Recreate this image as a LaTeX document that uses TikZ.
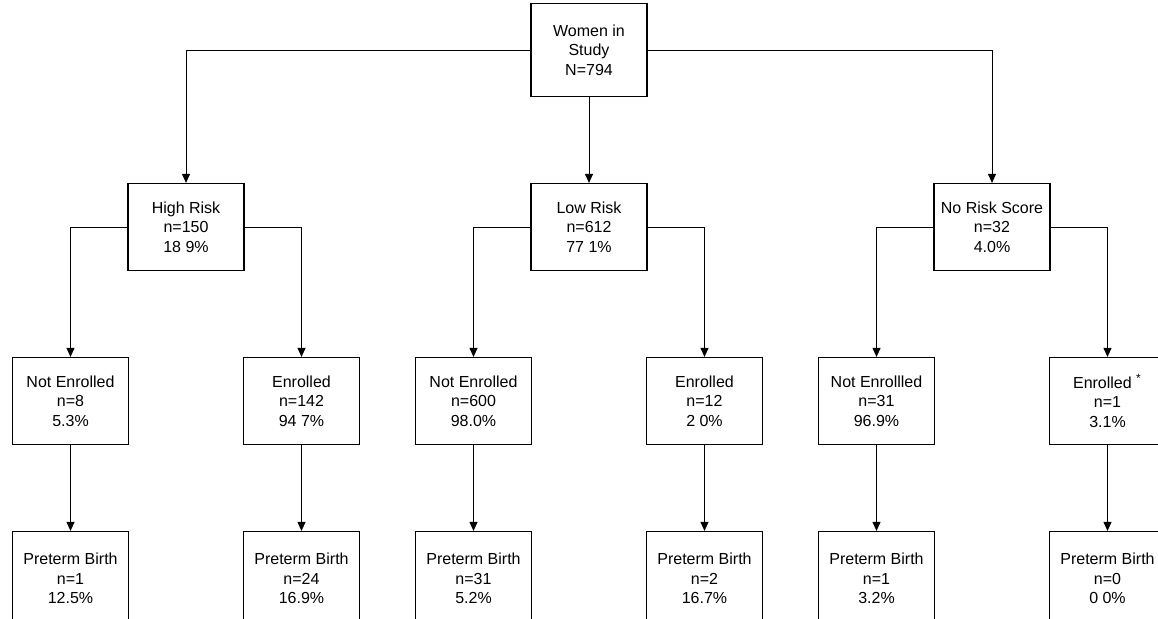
\documentclass[tikz,border=0pt]{standalone}
\usepackage{fontspec}
\setmainfont{Liberation Sans}
\usetikzlibrary{positioning, arrows.meta}

\begin{document}
\begin{tikzpicture}[x=0.5pt, y=0.5pt, line width=0.5pt, >={Triangle[width=4pt,length=4.5pt]},
    node distance=87pt and 57.75pt, on grid,
    box/.style={draw, line width=0.6pt, rectangle, minimum width=58pt, minimum height=43.5pt,
        inner sep=2pt, align=center, font=\fontsize{8}{9.65}\selectfont},
    pbox/.style={box, minimum height=47pt}]
    \useasboundingbox (0,0) rectangle (1158,-618);

    \node[box, minimum height=46.5pt] (w) at (589,-50) {Women in\\Study\\N=794};
    \node[box] (hr) [below left=88.5pt and 201.5pt of w] {High Risk\\n=150\\18 9\%};
    \node[box] (lr) [below=88.5pt of w] {Low Risk\\n=612\\77 1\%};
    \node[box] (nr) [below right=88.5pt and 201.5pt of w] {No Risk Score\\n=32\\4.0\%};

    \node[box] (ne1) [below left=of hr] {Not Enrolled\\n=8\\5.3\%};
    \node[box] (en1) [below right=of hr] {Enrolled\\n=142\\94 7\%};
    \node[box] (ne2) [below left=of lr] {Not Enrolled\\n=600\\98.0\%};
    \node[box] (en2) [below right=of lr] {Enrolled\\n=12\\2 0\%};
    \node[box] (ne3) [below left=of nr] {Not Enrollled\\n=31\\96.9\%};
    \node[box] (en3) [below right=of nr] {Enrolled \textsuperscript{*}\\n=1\\3.1\%};

    \node[pbox] (pb1) [below=88.75pt of ne1] {Preterm Birth\\n=1\\12.5\%};
    \node[pbox] (pb2) [below=88.75pt of en1] {Preterm Birth\\n=24\\16.9\%};
    \node[pbox] (pb3) [below=88.75pt of ne2] {Preterm Birth\\n=31\\5.2\%};
    \node[pbox] (pb4) [below=88.75pt of en2] {Preterm Birth\\n=2\\16.7\%};
    \node[pbox] (pb5) [below=88.75pt of ne3] {Preterm Birth\\n=1\\3.2\%};
    \node[pbox] (pb6) [below=88.75pt of en3] {Preterm Birth\\n=0\\0 0\%};

    \draw[->] (w.west) -| (hr);
    \draw[->] (w.east) -| (nr);
    \draw[->] (hr.west) -| (ne1);
    \draw[->] (hr.east) -| (en1);
    \draw[->] (lr.west) -| (ne2);
    \draw[->] (lr.east) -| (en2);
    \draw[->] (nr.west) -| (ne3);
    \draw[->] (nr.east) -| (en3);

    \path[->]
    (w) edge (lr)
    (ne1) edge (pb1)
    (en1) edge (pb2)
    (ne2) edge (pb3)
    (en2) edge (pb4)
    (ne3) edge (pb5)
    (en3) edge (pb6);
\end{tikzpicture}
\end{document}
